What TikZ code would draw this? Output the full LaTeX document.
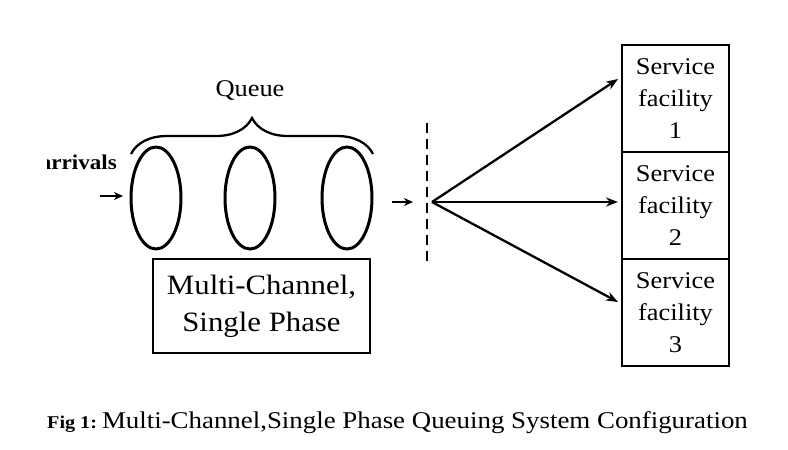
\documentclass[tikz,border=0pt]{standalone}
\usepackage{fontspec}
\setmainfont{Liberation Serif}[FakeStretch=1.1]
\newfontfamily\capfont{Liberation Serif}[FakeStretch=1.12]
\usetikzlibrary{arrows.meta,decorations.pathreplacing,shapes.geometric}
\begin{document}
\begin{tikzpicture}[x=1pt,y=-1pt,
  ell/.style={draw,line width=3pt,ellipse,inner sep=0pt,minimum width=50pt,minimum height=102pt},
  facbox/.style={draw,line width=1.2pt,minimum width=107pt,minimum height=107pt,inner sep=0pt,
    align=center,font=\fontsize{24}{32}\selectfont},
  mcbox/.style={draw,line width=1.2pt,minimum width=217pt,minimum height=94pt,inner sep=0pt,
    align=center,font=\fontsize{28}{37}\selectfont},
  fan/.style={line width=2.3pt,-{Stealth[length=12pt,width=9pt]}},
  small/.style={line width=2.5pt,-{Stealth[length=9pt,width=8pt]}},
  dashline/.style={line width=2.4pt,dash pattern=on 10pt off 6pt}
]
\useasboundingbox (0,0) rectangle (788,450);
\fill[white] (0,0) rectangle (788,450);

% queue
\node (q) at (250,90) {\fontsize{24}{28}\selectfont Queue};
\node[ell] (e1) at (156,198) {};
\node[ell] (e2) at (250,198) {};
\node[ell] (e3) at (347,198) {};
\coordinate (bl) at (131,154);
\coordinate (br) at (373,154);
\draw[line width=2.3pt,decorate,decoration={brace,amplitude=36pt,aspect=0.5}] (bl) -- (br);

% arrivals
\begin{scope}
\clip (47,130) rectangle (140,180);
\node[anchor=base east,inner sep=0pt] (arr) at (117,169) {\fontsize{21}{24}\selectfont\bfseries arrivals};
\end{scope}
\coordinate (a0) at (100,196);
\coordinate (a1) at (123,196);
\draw[small] (a0) -- (a1);

% after queue
\coordinate (b0) at (392,202);
\coordinate (b1) at (413,202);
\draw[small] (b0) -- (b1);
\coordinate (d0) at (427,123);
\coordinate (d1) at (427,262);
\draw[dashline] (d0) -- (d1);

% service facilities
\node[facbox] (f1) at (675.5,98.5) {Service\\facility\\1};
\node[facbox] (f2) at (675.5,205.5) {Service\\facility\\2};
\node[facbox] (f3) at (675.5,312.5) {Service\\facility\\3};

\coordinate (o) at (432,202);
\coordinate (t1) at (618,79);
\coordinate (t2) at (618,202);
\coordinate (t3) at (618,302);
\draw[fan] (o) -- (t1);
\draw[fan] (o) -- (t2);
\draw[fan] (o) -- (t3);

% label box
\node[mcbox] (mc) at (261.5,306) {Multi-Channel,\\Single Phase};

% caption
\node[anchor=base west,inner sep=0pt] (cap) at (47,428)
  {\capfont{\fontsize{18}{20}\selectfont\bfseries Fig 1:}\hspace{5pt}\fontsize{24}{28}\selectfont Multi-Channel,Single Phase Queuing System Configuration};
\end{tikzpicture}
\end{document}
